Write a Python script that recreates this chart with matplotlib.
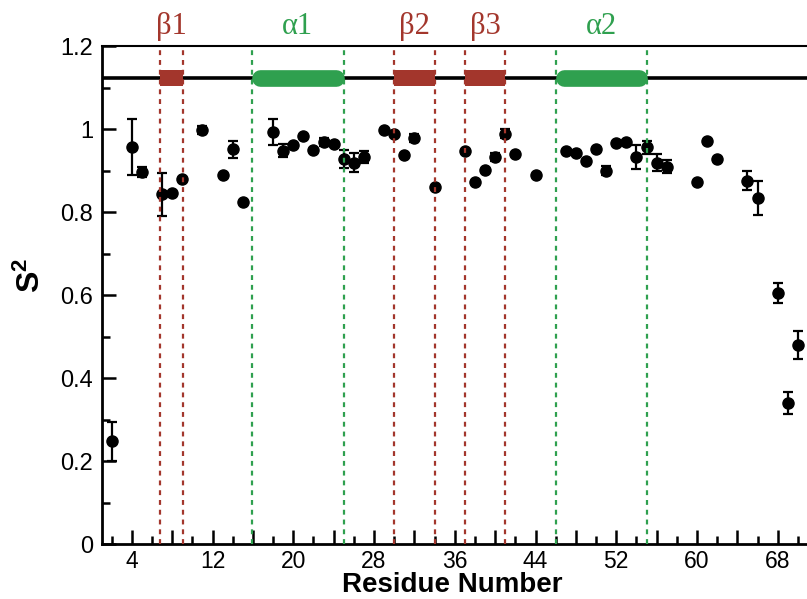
import matplotlib
matplotlib.use("Agg")
import matplotlib.pyplot as plt
from matplotlib.patches import Rectangle
import numpy as np

plt.rcParams['font.family'] = ['Liberation Sans', 'DejaVu Sans']
plt.rcParams['mathtext.fontset'] = 'custom'
plt.rcParams['mathtext.bf'] = 'Liberation Sans:bold'
plt.rcParams['mathtext.rm'] = 'Liberation Sans'

# ---- data ----
residues = [2, 4, 5, 7, 8, 9, 11, 13, 14, 15, 18, 19, 20, 21, 22, 23, 24, 25, 26, 27,
            29, 30, 31, 32, 34, 37, 38, 39, 40, 41, 42, 44, 47, 48, 49, 50, 51, 52, 53,
            54, 55, 56, 57, 60, 61, 62, 65, 66, 68, 69, 70]
s2 = [0.248, 0.957, 0.896, 0.843, 0.847, 0.879, 0.998, 0.889, 0.951, 0.825,
      0.993, 0.948, 0.961, 0.983, 0.949, 0.969, 0.965, 0.927, 0.919, 0.933,
      0.998, 0.988, 0.937, 0.978, 0.860, 0.948, 0.873, 0.901, 0.933, 0.989,
      0.940, 0.888, 0.947, 0.941, 0.923, 0.951, 0.900, 0.967, 0.969,
      0.932, 0.956, 0.919, 0.909, 0.873, 0.972, 0.927, 0.875, 0.833, 0.604, 0.340, 0.479]
s2_err = [0.047, 0.067, 0.012, 0.052, 0.0, 0.0, 0.010, 0.0, 0.020, 0.0,
          0.031, 0.015, 0.0, 0.0, 0.0, 0.010, 0.0, 0.022, 0.022, 0.015,
          0.0, 0.0, 0.0, 0.010, 0.0, 0.0, 0.0, 0.0, 0.010, 0.010,
          0.0, 0.0, 0.0, 0.0, 0.0, 0.0, 0.012, 0.0, 0.0,
          0.029, 0.016, 0.020, 0.016, 0.0, 0.0, 0.0, 0.023, 0.041, 0.024, 0.026, 0.034]

strand_names = ['β1', 'β2', 'β3']
strand_start = [6.8, 30.0, 37.0]
strand_end = [9.1, 34.0, 41.0]
helix_names = ['α1', 'α2']
helix_start = [15.9, 46.0]
helix_end = [25.0, 55.05]

x_major = list(range(4, 71, 4))
x_labels = [str(v) if (v - 4) % 8 == 0 else '' for v in x_major]
x_minor = list(range(2, 71, 4))
y_major = [0, 0.2, 0.4, 0.6, 0.8, 1.0, 1.2]
y_labels = ['0', '0.2', '0.4', '0.6', '0.8', '1', '1.2']
y_minor = [0.1, 0.3, 0.5, 0.7, 0.9, 1.1]

beta_color = '#a3362c'
alpha_color = '#2fa04f'
topo_y = 1.122
box_h = 0.038

fig = plt.figure(figsize=(8.07, 5.99), dpi=100)
ax = fig.add_axes([0.1258, 0.0918, 0.8742, 0.8314])
ax.set_xlim(1, 70.9)
ax.set_ylim(0, 1.2)

# data points
ax.errorbar(residues, s2, yerr=s2_err, fmt='o', color='black', ms=8,
            ecolor='black', elinewidth=1.6, capsize=3.6, capthick=1.6, zorder=3)

# topology line
ax.plot([1, 70.9], [topo_y, topo_y], color='black', lw=2.6, zorder=2, solid_capstyle='butt')

# secondary structure
for name, a, b in zip(strand_names, strand_start, strand_end):
    ax.add_patch(Rectangle((a, topo_y - box_h / 2), b - a, box_h,
                           facecolor=beta_color, edgecolor='none', zorder=4))
    for xv in (a, b):
        ax.plot([xv, xv], [0, 1.2], color=beta_color, lw=1.6, ls=(0, (2.2, 2.2)), zorder=5)
    ax.text((a + b) / 2, 1.248, name, color=beta_color, ha='center', va='center',
            fontsize=22, family='Liberation Serif', clip_on=False)

inset = 0.8
for name, a, b in zip(helix_names, helix_start, helix_end):
    ax.plot([a + inset, b - inset], [topo_y, topo_y], color=alpha_color, lw=12,
            solid_capstyle='round', zorder=4)
    for xv in (a, b):
        ax.plot([xv, xv], [0, 1.2], color=alpha_color, lw=1.6, ls=(0, (2.2, 2.2)), zorder=5)
    ax.text((a + b) / 2, 1.248, name, color=alpha_color, ha='center', va='center',
            fontsize=22, family='Liberation Serif', clip_on=False)

# axes styling
ax.spines['right'].set_visible(False)
ax.spines['left'].set_linewidth(2.0)
ax.spines['bottom'].set_linewidth(2.0)
ax.spines['top'].set_linewidth(1.5)

ax.set_xticks(x_major)
ax.set_xticklabels(x_labels)
ax.set_xticks(x_minor, minor=True)
ax.set_yticks(y_major)
ax.set_yticklabels(y_labels)
ax.set_yticks(y_minor, minor=True)
ax.tick_params(axis='both', which='major', direction='in', length=10, width=1.8,
               labelsize=17, pad=6)
ax.tick_params(axis='both', which='minor', direction='in', length=5.5, width=1.8)
ax.tick_params(axis='x', which='major', pad=4, labelsize=16.5)

ax.set_xlabel('Residue Number', fontsize=20, fontweight='bold')
ax.xaxis.set_label_coords(0.497, -0.057)
ax.set_ylabel(r'$\mathbf{S^2}$', fontsize=23)
ax.yaxis.set_label_coords(-0.077, 0.54)

fig.savefig('out.png', dpi=100)
